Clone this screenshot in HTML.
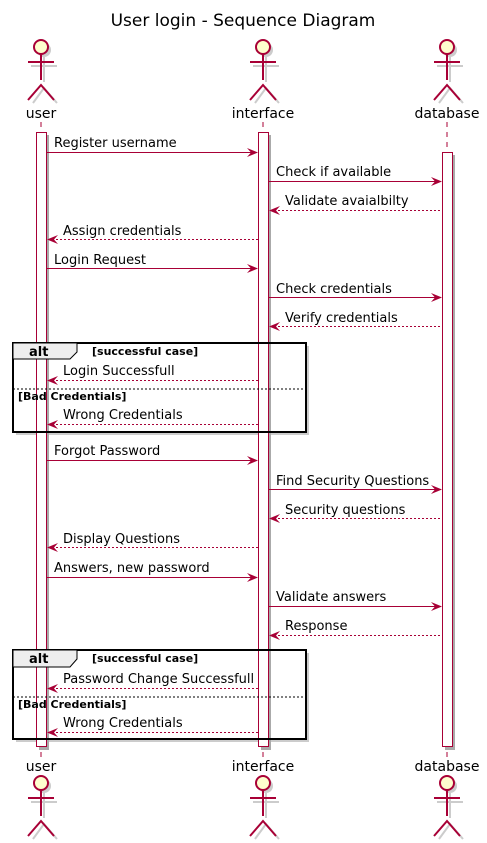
<!DOCTYPE html>
<html><head><meta charset="utf-8"><style>
html,body{margin:0;padding:0;background:#fff;}
svg{display:block;font-family:"DejaVu Sans","Liberation Sans",sans-serif;}
</style></head><body>
<svg width="487" height="843" viewBox="0 0 487 843" xmlns="http://www.w3.org/2000/svg">
<defs>
<g id="actor">
  <circle cx="3" cy="3" r="7" fill="#ccc" stroke="none"/>
  <line x1="3" y1="10" x2="3" y2="35" stroke="#ccc" stroke-width="2"/>
  <line x1="-10" y1="19" x2="16" y2="19" stroke="#ccc" stroke-width="2"/>
  <polyline points="-8,56 3,41 16,56" fill="none" stroke="#ccc" stroke-width="2"/>
  <circle cx="0" cy="0" r="7" fill="#FEFECE" stroke="#A80036" stroke-width="2"/>
  <line x1="0" y1="7" x2="0" y2="33" stroke="#A80036" stroke-width="2"/>
  <line x1="-13" y1="15" x2="13" y2="15" stroke="#A80036" stroke-width="2"/>
  <polyline points="-13,53 0,38 13,53" fill="none" stroke="#A80036" stroke-width="2"/>
</g>
</defs>
<text x="243" y="26" text-anchor="middle" font-size="17" fill="#000">User login - Sequence Diagram</text>

<!-- frame backgrounds -->
<rect x="16" y="346" width="293" height="89" fill="#ccc"/>
<rect x="13" y="343" width="293" height="89" fill="#fff"/>
<rect x="16" y="653" width="293" height="89" fill="#ccc"/>
<rect x="13" y="650" width="293" height="89" fill="#fff"/>

<!-- lifelines -->
<g stroke="#A80036" stroke-dasharray="5,5" stroke-width="1">
<line x1="41" y1="122" x2="41" y2="760"/>
<line x1="263" y1="122" x2="263" y2="760"/>
<line x1="447" y1="122" x2="447" y2="760"/>
</g>

<!-- actors -->
<use href="#actor" x="41" y="47"/>
<use href="#actor" x="263" y="47"/>
<use href="#actor" x="447" y="47"/>
<g font-size="14" text-anchor="middle" fill="#000">
<text x="41" y="118">user</text><text x="263" y="118">interface</text><text x="447" y="118">database</text>
<text x="41" y="771">user</text><text x="263" y="771">interface</text><text x="447" y="771">database</text>
</g>
<use href="#actor" x="41" y="783"/>
<use href="#actor" x="263" y="783"/>
<use href="#actor" x="447" y="783"/>

<!-- activation boxes -->
<g fill="#aaa"><rect x="39" y="135" width="10" height="615"/><rect x="261" y="135" width="10" height="615"/><rect x="445" y="155" width="10" height="595"/></g>
<g fill="#fff" stroke="#A80036" stroke-width="1">
<rect x="36.5" y="132.5" width="10" height="614"/>
<rect x="258.5" y="132.5" width="10" height="614"/>
<rect x="442.5" y="152.5" width="10" height="594"/>
</g>

<!-- alt frames -->
<g>
<rect x="13" y="343" width="293" height="89" fill="none" stroke="#000" stroke-width="2"/>
<path d="M13,343 H77 V352 L70,359 H13 Z" fill="#eee" stroke="#000" stroke-width="1"/>
<text x="29" y="356" font-size="13" font-weight="bold">alt</text>
<text x="92" y="355" font-size="11" font-weight="bold">[successful case]</text>
<line x1="13" y1="389" x2="306" y2="389" stroke="#000" stroke-dasharray="2,2"/>
<text x="18" y="400" font-size="11" font-weight="bold">[Bad Credentials]</text>

<rect x="13" y="650" width="293" height="89" fill="none" stroke="#000" stroke-width="2"/>
<path d="M13,650 H77 V659 L70,667 H13 Z" fill="#eee" stroke="#000" stroke-width="1"/>
<text x="29" y="663" font-size="13" font-weight="bold">alt</text>
<text x="92" y="662" font-size="11" font-weight="bold">[successful case]</text>
<line x1="13" y1="697" x2="306" y2="697" stroke="#000" stroke-dasharray="2,2"/>
<text x="18" y="708" font-size="11" font-weight="bold">[Bad Credentials]</text>
</g>

<!-- messages -->
<g font-size="13" fill="#000">
<text x="54" y="147">Register username</text>
<text x="276" y="176">Check if available</text>
<text x="285" y="205">Validate avaialbilty</text>
<text x="63" y="235">Assign credentials</text>
<text x="54" y="264">Login Request</text>
<text x="276" y="293">Check credentials</text>
<text x="285" y="322">Verify credentials</text>
<text x="63" y="375">Login Successfull</text>
<text x="63" y="419">Wrong Credentials</text>
<text x="54" y="455">Forgot Password</text>
<text x="276" y="485">Find Security Questions</text>
<text x="285" y="514">Security questions</text>
<text x="63" y="543">Display Questions</text>
<text x="54" y="572">Answers, new password</text>
<text x="276" y="601">Validate answers</text>
<text x="285" y="630">Response</text>
<text x="63" y="683">Password Change Successfull</text>
<text x="63" y="727">Wrong Credentials</text>
</g>
<g stroke="#A80036" stroke-width="1">
<line x1="47" y1="152.5" x2="257" y2="152.5"/>
<line x1="269" y1="181.5" x2="441" y2="181.5"/>
<line x1="47" y1="268.5" x2="257" y2="268.5"/>
<line x1="269" y1="297.5" x2="441" y2="297.5"/>
<line x1="47" y1="460.5" x2="257" y2="460.5"/>
<line x1="269" y1="489.5" x2="441" y2="489.5"/>
<line x1="47" y1="577.5" x2="257" y2="577.5"/>
<line x1="269" y1="606.5" x2="441" y2="606.5"/>
</g>
<g stroke="#A80036" stroke-width="1" stroke-dasharray="2,2">
<line x1="270" y1="210.5" x2="442" y2="210.5"/>
<line x1="48" y1="239.5" x2="258" y2="239.5"/>
<line x1="270" y1="326.5" x2="442" y2="326.5"/>
<line x1="48" y1="380.5" x2="258" y2="380.5"/>
<line x1="48" y1="424.5" x2="258" y2="424.5"/>
<line x1="270" y1="518.5" x2="442" y2="518.5"/>
<line x1="48" y1="547.5" x2="258" y2="547.5"/>
<line x1="270" y1="635.5" x2="442" y2="635.5"/>
<line x1="48" y1="688.5" x2="258" y2="688.5"/>
<line x1="48" y1="732.5" x2="258" y2="732.5"/>
</g>
<g fill="#A80036">
<path d="M258,152.5 l-11,-4.5 l4,4.5 l-4,4.5z"/>
<path d="M442,181.5 l-11,-4.5 l4,4.5 l-4,4.5z"/>
<path d="M258,268.5 l-11,-4.5 l4,4.5 l-4,4.5z"/>
<path d="M442,297.5 l-11,-4.5 l4,4.5 l-4,4.5z"/>
<path d="M258,460.5 l-11,-4.5 l4,4.5 l-4,4.5z"/>
<path d="M442,489.5 l-11,-4.5 l4,4.5 l-4,4.5z"/>
<path d="M258,577.5 l-11,-4.5 l4,4.5 l-4,4.5z"/>
<path d="M442,606.5 l-11,-4.5 l4,4.5 l-4,4.5z"/>
<path d="M269,210.5 l11,-4.5 l-4,4.5 l4,4.5z"/>
<path d="M47,239.5 l11,-4.5 l-4,4.5 l4,4.5z"/>
<path d="M269,326.5 l11,-4.5 l-4,4.5 l4,4.5z"/>
<path d="M47,380.5 l11,-4.5 l-4,4.5 l4,4.5z"/>
<path d="M47,424.5 l11,-4.5 l-4,4.5 l4,4.5z"/>
<path d="M269,518.5 l11,-4.5 l-4,4.5 l4,4.5z"/>
<path d="M47,547.5 l11,-4.5 l-4,4.5 l4,4.5z"/>
<path d="M269,635.5 l11,-4.5 l-4,4.5 l4,4.5z"/>
<path d="M47,688.5 l11,-4.5 l-4,4.5 l4,4.5z"/>
<path d="M47,732.5 l11,-4.5 l-4,4.5 l4,4.5z"/>
</g>
</svg>
</body></html>
